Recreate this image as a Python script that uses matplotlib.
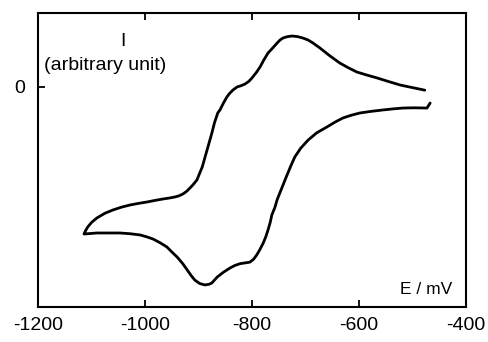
import matplotlib
matplotlib.use("Agg")
import matplotlib.pyplot as plt

plt.rcParams['font.family'] = ['Liberation Sans', 'DejaVu Sans']

# Upper (anodic) branch: from right end to left vertex
E_up = [-477, -500, -523, -545, -566, -585, -604, -620, -636, -655, -673, -680,
        -686, -695, -705, -715, -725, -734, -742, -748, -753, -760, -765, -770,
        -778, -785, -792, -800, -806, -813, -820, -828, -836, -842, -847, -853,
        -860, -864, -870, -875, -884, -893, -903, -910, -916, -922, -929, -936,
        -944, -955, -966, -980, -996, -1012, -1028, -1044, -1060, -1075, -1090,
        -1100, -1107, -1111, -1114]
I_up = [-0.05, -0.015, 0.02, 0.068, 0.116, 0.155, 0.197, 0.255, 0.32, 0.42, 0.524, 0.56,
        0.592, 0.632, 0.66, 0.679, 0.687, 0.678, 0.66, 0.63, 0.592, 0.535, 0.495, 0.456,
        0.36, 0.265, 0.19, 0.116, 0.07, 0.034, 0.012, -0.007, -0.05, -0.095, -0.143, -0.22,
        -0.32, -0.36, -0.49, -0.633, -0.864, -1.095, -1.272, -1.335, -1.381, -1.425, -1.462, -1.486,
        -1.503, -1.518, -1.53, -1.548, -1.571, -1.59, -1.612, -1.642, -1.68, -1.725, -1.789,
        -1.85, -1.911, -1.96, -2.007]

# Lower (cathodic) branch: from left vertex to right end
E_dn = [-1114, -1090, -1068, -1047, -1028, -1009, -997, -985, -972, -959, -950, -940,
        -930, -921, -914, -907, -898, -888, -880, -875, -865, -853, -841, -832,
        -822, -813, -804, -797, -791, -785, -779, -774, -770, -766, -763, -757,
        -753, -748, -742, -736, -728, -720, -709, -695, -679, -660, -645, -630,
        -614, -598, -577, -555, -537, -518, -496, -473, -467]
I_dn = [-2.007, -1.993, -1.993, -1.993, -2.003, -2.02, -2.045, -2.075, -2.125, -2.184, -2.25, -2.32,
        -2.405, -2.497, -2.57, -2.633, -2.68, -2.70, -2.69, -2.673, -2.592, -2.525, -2.469, -2.435,
        -2.41, -2.40, -2.39, -2.35, -2.29, -2.215, -2.13, -2.04, -1.95, -1.85, -1.75, -1.64,
        -1.54, -1.449, -1.34, -1.231, -1.09, -0.959, -0.84, -0.728, -0.63, -0.551, -0.485, -0.428,
        -0.39, -0.36, -0.338, -0.319, -0.305, -0.293, -0.29, -0.293, -0.225]

xticks = [-1200, -1000, -800, -600, -400]
xticklabels = ["-1200", "-1000", "-800", "-600", "-400"]
yticks = [0]
yticklabels = ["0"]

fig = plt.figure(figsize=(4.89, 3.42), dpi=100)
ax = fig.add_axes([38/489, 35/342, 428/489, 294/342])

E = E_up + E_dn
I = I_up + I_dn
ax.plot(E, I, color='black', lw=2.0, solid_joinstyle='round', solid_capstyle='round')

ax.set_xlim(-1200, -400)
ax.set_ylim(-3, 1)
ax.set_xticks(xticks)
ax.set_xticklabels(xticklabels)
ax.set_yticks(yticks)
ax.set_yticklabels(yticklabels)
ax.tick_params(axis='x', direction='in', length=5, width=1.3, top=True, labelsize=14, pad=7)
ax.tick_params(axis='y', direction='in', length=5, width=1.3, right=False, labelsize=14, pad=9)
for s in ax.spines.values():
    s.set_linewidth(1.5)

fig.text(123/489, 1 - 42/342, "I", fontsize=14, ha='center', va='center')
fig.text(105/489, 1 - 65/342, "(arbitrary unit)", fontsize=14, ha='center', va='center')
fig.text(426/489, 1 - 289/342, "E / mV", fontsize=12.5, ha='center', va='center')

fig.savefig("out.png", dpi=100)
